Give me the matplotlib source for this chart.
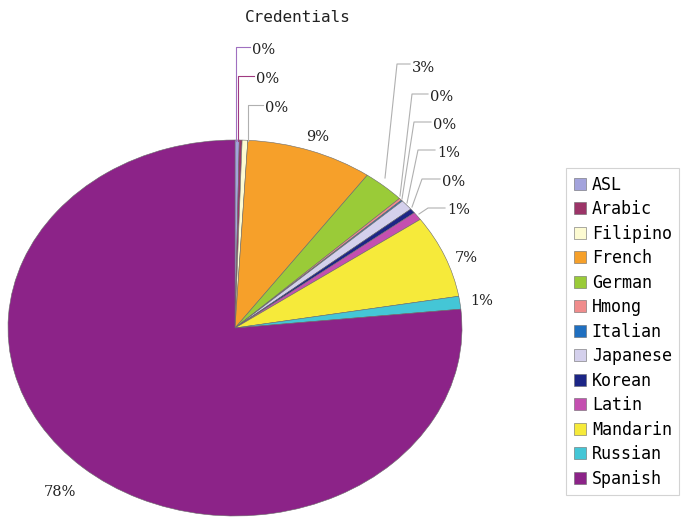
import numpy as np
import matplotlib
matplotlib.use("Agg")
import matplotlib.pyplot as plt

languages = ["ASL", "Arabic", "Filipino", "French", "German", "Hmong", "Italian",
             "Japanese", "Korean", "Latin", "Mandarin", "Russian", "Spanish"]
shares = [0.3, 0.2, 0.4, 9.0, 3.0, 0.2, 0.1, 0.9, 0.4, 0.7, 7.1, 1.1, 76.6]
pct_labels = ["0%", "0%", "0%", "9%", "3%", "0%", "0%", "1%", "0%", "1%", "7%", "1%", "78%"]
colors = ["#a3a3dc", "#9c3468", "#fdfbd2", "#f6a02a", "#9acb38", "#f08c8c", "#1f6fc0",
          "#d4d0ec", "#1c2586", "#c44fb0", "#f6ea3a", "#44c6d6", "#8c2388"]

W, H = 684, 519
cx, cy, rx, ry = 235, 328, 227, 188


def px(x, y):
    # pixel position -> data coords of the stretched pie axes
    return (x - cx) / rx, (cy - y) / ry


fig = plt.figure(figsize=(W / 100, H / 100), dpi=100)
ax = fig.add_axes([0, 0, 1, 1])
wedges, _ = ax.pie(shares, colors=colors, startangle=90, counterclock=False,
                   wedgeprops=dict(edgecolor="#6a6a6a", linewidth=0.4))
ax.set_aspect("auto")
ax.set_xlim(-cx / rx, (W - cx) / rx)
ax.set_ylim((cy - H) / ry, cy / ry)
ax.axis("off")

font = "DejaVu Serif"

# label positions (pixels): text anchor, and leader line points
label_pos = {
    0: ((252, 50), [(236, 141), (236, 47), (250, 47)], "#a070c0"),
    1: ((256, 79), [(238, 141), (238, 76), (254, 76)], "#a03a80"),
    2: ((265, 108), [(248, 141), (248, 105), (263, 105)], "#b0b0b0"),
    3: ((306, 137), None, None),
    4: ((412, 68), [(385, 178), (397, 64), (410, 64)], "#b0b0b0"),
    5: ((430, 97), [(400, 196), (412, 94), (428, 94)], "#b0b0b0"),
    6: ((433, 125), [(402, 199), (414, 122), (431, 122)], "#b0b0b0"),
    7: ((437, 153), [(407, 203), (418, 150), (435, 150)], "#b0b0b0"),
    8: ((442, 182), [(412, 207), (422, 179), (440, 179)], "#b0b0b0"),
    9: ((447, 210), [(419, 214), (428, 208), (445, 208)], "#b0b0b0"),
    10: ((455, 258), None, None),
    11: ((470, 301), None, None),
    12: ((44, 492), None, None),
}

for i, lab in enumerate(pct_labels):
    (tx, ty), line, lc = label_pos[i]
    if line is not None:
        pts = np.array([px(*p) for p in line])
        ax.plot(pts[:, 0], pts[:, 1], color=lc, lw=0.8, clip_on=False)
    x, y = px(tx, ty)
    ax.text(x, y, lab, fontsize=10.5, family=font, ha="left", va="center",
            color="#222222")

fig.text(298 / W, 1 - 18 / H, "Credentials", fontsize=11.5, family="DejaVu Sans Mono",
         ha="center", va="center", color="#222222")

leg = fig.legend(wedges, languages, loc="upper left", bbox_to_anchor=(566 / W, 1 - 168 / H),
                 frameon=True, prop=dict(family="DejaVu Sans Mono", size=12),
                 handlelength=0.75, handleheight=0.75, handletextpad=0.35,
                 labelspacing=0.39, borderpad=0.45, borderaxespad=0, fancybox=False)
leg.get_frame().set_edgecolor("#c8c8c8")
leg.get_frame().set_linewidth(0.8)

fig.savefig("out.png", dpi=100)
